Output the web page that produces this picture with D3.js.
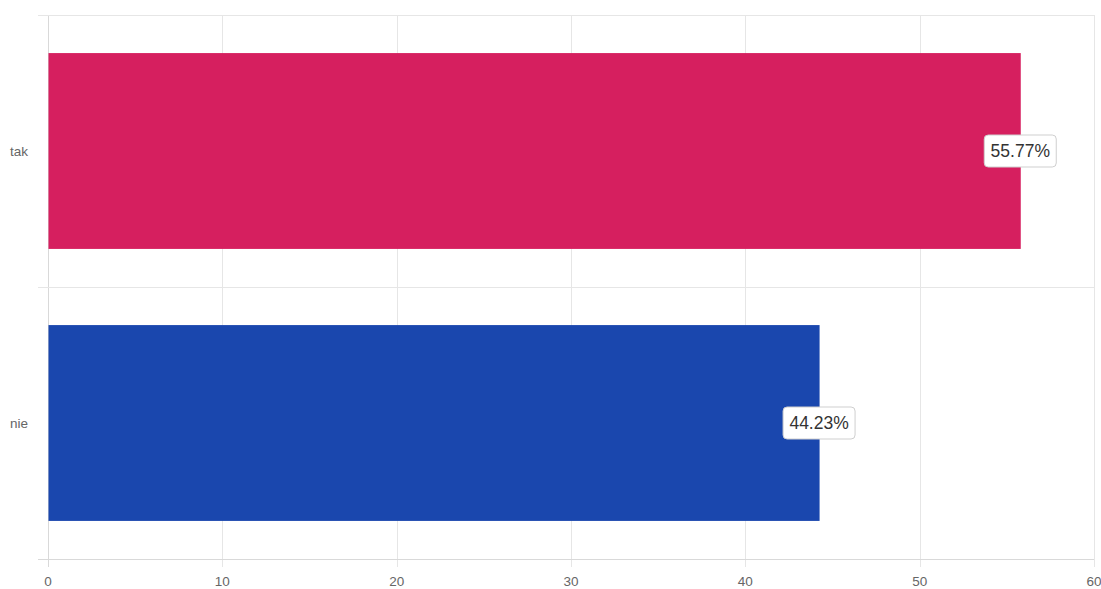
<!DOCTYPE html>
<html>
<head>
<meta charset="utf-8">
<script src="https://cdn.jsdelivr.net/npm/d3@7"></script>
<style>
  html, body { margin: 0; padding: 0; background: #fff; }
  svg { display: block; font-family: "Liberation Sans", Arial, sans-serif; }
</style>
</head>
<body>
<svg id="chart" width="1101" height="589"></svg>
<script>
// Answer shares (percent)
const categories = ["tak", "nie"];
const values = [55.77, 44.23];
const barColors = ["#D61F5F", "#1A47AE"];
const xTicks = [0, 10, 20, 30, 40, 50, 60];

(function () {
  const svg = d3.select("#chart");
  const plotLeft = 48, plotRight = 1094, plotTop = 15, plotBottom = 559;

  const x = d3.scaleLinear().domain([0, 60]).range([plotLeft, plotRight]);
  const y = d3.scaleBand().domain(categories).range([plotTop, plotBottom]).paddingInner(0.28).paddingOuter(0.14);
  const band = d3.scaleBand().domain(categories).range([plotTop, plotBottom]);

  // Vertical grid lines with tick marks below the plot
  svg.append("g").selectAll("line").data(xTicks).join("line")
    .attr("x1", d => Math.round(x(d)) + 0.5).attr("x2", d => Math.round(x(d)) + 0.5)
    .attr("y1", plotTop).attr("y2", plotBottom + 8)
    .attr("stroke", d => d === 0 ? "#d9d9d9" : "#e6e6e6").attr("stroke-width", 1);

  // Horizontal category separators with tick marks on the left
  const hLines = [plotTop, ...categories.map(c => band(c) + band.bandwidth())];
  svg.append("g").selectAll("line").data(hLines).join("line")
    .attr("x1", plotLeft - 10).attr("x2", plotRight)
    .attr("y1", d => Math.round(d) + 0.5).attr("y2", d => Math.round(d) + 0.5)
    .attr("stroke", (d, i) => i === hLines.length - 1 ? "#d9d9d9" : "#e6e6e6");

  // X tick labels
  svg.append("g").selectAll("text").data(xTicks).join("text")
    .attr("x", d => x(d)).attr("y", 586)
    .attr("text-anchor", "middle")
    .attr("font-size", 13.5).attr("fill", "#666")
    .text(d => d);

  // Category labels
  svg.append("g").selectAll("text").data(categories).join("text")
    .attr("x", 10).attr("y", d => band(d) + band.bandwidth() / 2 + 5)
    .attr("font-size", 13.5).attr("fill", "#666")
    .text(d => d);

  // Bars
  svg.append("g").selectAll("rect").data(values).join("rect")
    .attr("x", x(0) + 0.5)
    .attr("y", (d, i) => y(categories[i]))
    .attr("width", d => x(d) - x(0))
    .attr("height", y.bandwidth())
    .attr("fill", (d, i) => barColors[i]);

  // Value labels in rounded boxes at bar ends
  const lab = svg.append("g").selectAll("g").data(values).join("g")
    .attr("transform", (d, i) => `translate(${x(d)},${y(categories[i]) + y.bandwidth() / 2})`);
  lab.append("rect")
    .attr("x", -36).attr("y", -16).attr("width", 72).attr("height", 32)
    .attr("rx", 4).attr("fill", "#fff").attr("stroke", "#cfcfcf");
  lab.append("text")
    .attr("text-anchor", "middle").attr("y", 6)
    .attr("font-size", 17.5).attr("fill", "#333")
    .text(d => d.toFixed(2) + "%");
})();
</script>
</body>
</html>
